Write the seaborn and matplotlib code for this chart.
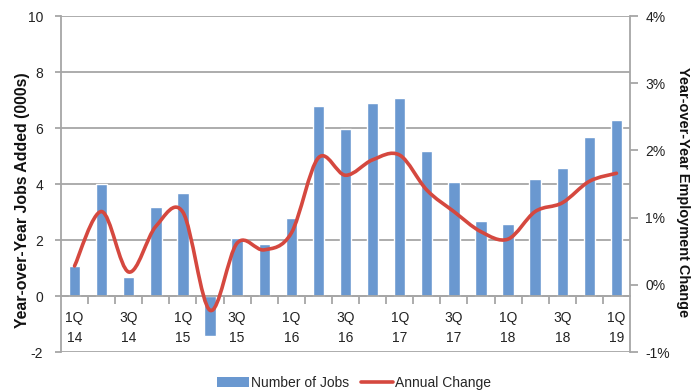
import numpy as np
import pandas as pd
import matplotlib
matplotlib.use("Agg")
import matplotlib.pyplot as plt
import seaborn as sns
from matplotlib.path import Path
from matplotlib.patches import PathPatch
from matplotlib.lines import Line2D
from matplotlib.patches import Patch

quarters = ["1Q14", "2Q14", "3Q14", "4Q14", "1Q15", "2Q15", "3Q15", "4Q15",
            "1Q16", "2Q16", "3Q16", "4Q16", "1Q17", "2Q17", "3Q17", "4Q17",
            "1Q18", "2Q18", "3Q18", "4Q18", "1Q19"]
jobs_added = [1.07, 3.99, 0.69, 3.19, 3.69, -1.42, 2.06, 1.86, 2.80, 6.79, 5.95,
              6.90, 7.06, 5.18, 4.08, 2.68, 2.57, 4.18, 4.57, 5.69, 6.29]
annual_change = [0.28, 1.09, 0.19, 0.87, 1.08, -0.38, 0.62, 0.52, 0.77, 1.89, 1.63,
                 1.86, 1.93, 1.41, 1.09, 0.79, 0.68, 1.09, 1.22, 1.54, 1.66]
tick_labels = ["1Q\n14", "3Q\n14", "1Q\n15", "3Q\n15", "1Q\n16", "3Q\n16",
               "1Q\n17", "3Q\n17", "1Q\n18", "3Q\n18", "1Q\n19"]

BAR = "#6a98d0"
LINE = "#d5483f"
GRID = "#a6a6a6"
TXT = "#222222"

sns.set_theme(style="white")
plt.rcParams["font.family"] = ["Liberation Sans", "DejaVu Sans"]
plt.rcParams["axes.unicode_minus"] = False

fig = plt.figure(figsize=(6.91, 3.90), dpi=100)
ax = fig.add_axes([61/691, 1-352/390, (630-61)/691, (352-16)/390])

df = pd.DataFrame({"quarter": quarters, "jobs": jobs_added})
sns.barplot(data=df, x="quarter", y="jobs", ax=ax, color=BAR, width=0.42,
            saturation=1, zorder=2)

ax.set_xlim(-0.5, len(quarters) - 0.5)
ax.set_ylim(-2, 10)
ax.set_yticks(np.arange(-2, 11, 2))
ax.yaxis.grid(True, color=GRID, linewidth=1.3)
ax.set_axisbelow(True)
for s in ["top", "right"]:
    ax.spines[s].set_visible(False)
ax.spines["left"].set_color(GRID)
ax.spines["left"].set_linewidth(1.3)
ax.spines["bottom"].set_position(("data", 0))
ax.spines["bottom"].set_color(GRID)
ax.spines["bottom"].set_linewidth(1.3)

ax.set_xticks(range(0, len(quarters), 2))
ax.set_xticklabels(tick_labels, fontsize=10, linespacing=1.5, color=TXT)
ax.set_xticks(np.arange(0.5, len(quarters) - 1, 1), minor=True)
ax.tick_params(axis="x", which="major", length=0, pad=11, bottom=True)
ax.tick_params(axis="x", which="minor", length=6, width=1.3, color=GRID,
               direction="out", bottom=True)
ax.tick_params(axis="y", length=4, width=1.3, color=GRID, pad=9, labelsize=10,
               labelcolor=TXT, left=True)
ax.set_xlabel("")
ax.set_ylabel("Year-over-Year Jobs Added (000s)", fontsize=10, fontweight="bold",
              color="#111111", va="center")
ax.yaxis.set_label_coords((23 - 61) / 569, (352 - 200) / 336)

ax2 = ax.twinx()
ax2.set_ylim(-1, 4)
ax2.set_yticks(range(-1, 5))
ax2.set_yticklabels([f"{v}%" for v in range(-1, 5)])
for s in ["top", "left", "bottom"]:
    ax2.spines[s].set_visible(False)
ax2.spines["right"].set_color(GRID)
ax2.spines["right"].set_linewidth(1.3)
ax2.tick_params(axis="y", length=6, width=1.3, color=GRID, pad=5, labelsize=10,
                labelcolor=TXT, right=True)
ax2.grid(False)
ax2.set_ylabel("Year-over-Year Employment Change", fontsize=10, fontweight="bold",
               rotation=-90, color="#111111", va="center")
ax2.yaxis.set_label_coords((683 - 61) / 569, (352 - 192) / 336)

# fit axis-title lengths to the reference's pixel lengths
fig.canvas.draw()
renderer = fig.canvas.get_renderer()
for lab, target in [(ax.yaxis.label, 257), (ax2.yaxis.label, 250)]:
    h = lab.get_window_extent(renderer).height
    lab.set_fontsize(10 * target / h)

# smoothed line (Bezier through data points, like a spreadsheet "smoothed line")
pts = np.column_stack([np.arange(len(annual_change)), annual_change]).astype(float)
verts = [tuple(pts[0])]
codes = [Path.MOVETO]
n = len(pts)
for i in range(n - 1):
    p_prev = pts[i - 1] if i > 0 else pts[i]
    p_next2 = pts[i + 2] if i + 2 < n else pts[i + 1]
    c1 = pts[i] + (pts[i + 1] - p_prev) / 6.0
    c2 = pts[i + 1] - (p_next2 - pts[i]) / 6.0
    verts += [tuple(c1), tuple(c2), tuple(pts[i + 1])]
    codes += [Path.CURVE4] * 3
ax2.add_patch(PathPatch(Path(verts, codes), facecolor="none", edgecolor=LINE,
                        linewidth=2.6, capstyle="round", joinstyle="round", zorder=3))

handles = [Patch(facecolor=BAR, edgecolor="none", label="Number of Jobs"),
           Line2D([0], [0], color=LINE, linewidth=2.6, label="Annual Change")]
fig.legend(handles=handles, loc="center", bbox_to_anchor=(354/691, 1-383/390),
           ncol=2, frameon=False, fontsize=10, handlelength=2.3,
           handletextpad=0.2, columnspacing=0.8)

fig.savefig("out.png", dpi=100)
